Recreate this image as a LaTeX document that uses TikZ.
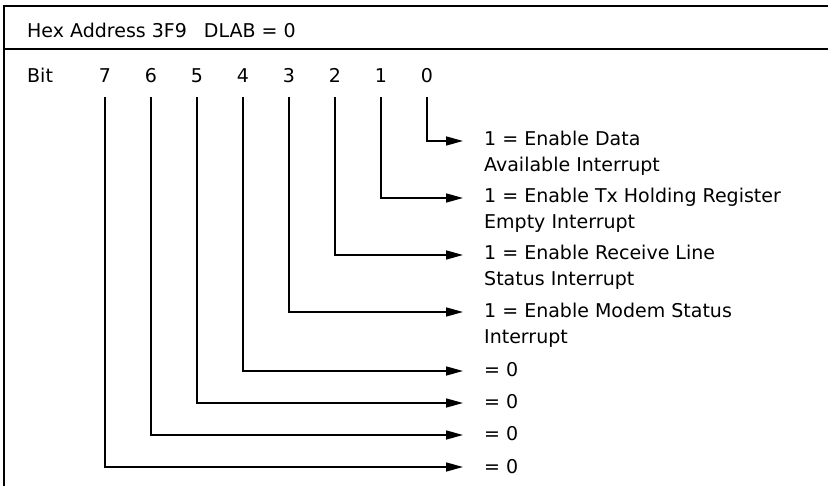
\documentclass[tikz,border=0pt]{standalone}
\usepackage{fontspec}
\setmainfont{DejaVu Sans}
\usetikzlibrary{arrows.meta}

\tikzset{
  regline/.style={line width=1.6pt},
  bitarrow/.style={line width=1.6pt, -{Triangle[length=17pt,width=9pt]}, shorten <=14pt},
  bitnum/.style={inner sep=0pt, anchor=base},
  bitlabel/.style={inner sep=0pt, anchor=base west, align=left}
}

\begin{document}
\begin{tikzpicture}[x=1pt, y=-1pt, font=\fontsize{19}{26}\selectfont]
  \useasboundingbox (0,0) rectangle (828,486);
  % register frame
  \draw[regline] (828,6) -- (4,6) -- (4,486);
  \draw[regline] (4,49) -- (828,49);
  \node[bitlabel] (addr) at (27,38) {Hex Address 3F9\hspace{17pt}DLAB = 0};
  \node[bitlabel] (bitword) at (27,83) {Bit};
  \foreach \b in {0,...,7}
    \node[bitnum] (bit\b) at ({105+46*(7-\b)},83) {\b};
  % bit meanings (base = last line)
  \node[bitlabel] (lbl0) at (484,172) {1 = Enable Data\\Available Interrupt};
  \node[bitlabel] (lbl1) at (484,229) {1 = Enable Tx Holding Register\\Empty Interrupt};
  \node[bitlabel] (lbl2) at (484,286) {1 = Enable Receive Line\\Status Interrupt};
  \node[bitlabel] (lbl3) at (484,344) {1 = Enable Modem Status\\Interrupt};
  \node[bitlabel] (lbl4) at (484,377) {= 0};
  \node[bitlabel] (lbl5) at (484,409) {= 0};
  \node[bitlabel] (lbl6) at (484,441) {= 0};
  \node[bitlabel] (lbl7) at (484,473) {= 0};
  % arrows
  \foreach \b/\y in {0/141,1/198,2/255,3/312,4/371,5/403,6/435,7/467} {
    \coordinate (tip\b) at (463,\y);
    \draw[bitarrow] (bit\b) |- (tip\b);
  }
\end{tikzpicture}
\end{document}
